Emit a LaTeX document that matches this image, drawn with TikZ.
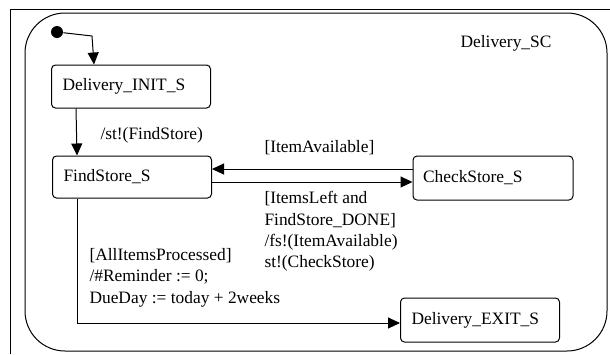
\documentclass[tikz,border=0pt]{standalone}
\usepackage{fontspec}
\setmainfont{Liberation Serif}
\usetikzlibrary{positioning,arrows.meta}

\begin{document}
\begin{tikzpicture}[x=1pt,y=-1pt,
  font=\fontsize{17.4}{21.4}\selectfont,
  line width=1pt,
  state/.style={draw, rounded corners=4pt, minimum height=43pt, inner xsep=11pt, text width=137pt, align=left},
  trans/.style={-{Triangle[length=12pt,width=11pt]}},
  lbl/.style={inner sep=0pt, align=left}]
\useasboundingbox (0,0) rectangle (610,354);
\draw (10,354) |- (610,9);
\draw[rounded corners=40pt] (25,13) rectangle (607,351);
\node (name) at (506,43) {Delivery\_SC};
\node[fill, circle, inner sep=0pt, minimum size=12pt] (start) at (57,32) {};
\node[state] (initS) at (131,86.5) {Delivery\_INIT\_S};
\node[state, minimum height=42pt] (findS) at (132,177) {FindStore\_S};
\node[state, minimum height=44pt, inner xsep=10pt, text width=140pt] (checkS) at (493,178) {CheckStore\_S};
\node[state, minimum height=44pt] (exitS) at (480,320) {Delivery\_EXIT\_S};
\node[lbl, anchor=west] (l1) at (100,135) {/st!(FindStore)};
\node[lbl, anchor=west] (l2) at (264,148) {[ItemAvailable]};
\node[lbl, anchor=north west] (l3) at (264,191) {[ItemsLeft and\\FindStore\_DONE]\\/fs!(ItemAvailable)\\st!(CheckStore)};
\node[lbl, anchor=north west] (l4) at (89,248) {[AllItemsProcessed]\\/\#Reminder := 0;\\DueDay := today + 2weeks};
\coordinate (kink) at (92,36);
\draw[trans] (start) -- (kink) -- ([xshift=43pt]initS.north west);
\draw[trans] ([xshift=25pt]initS.south west) -- ([xshift=25pt]findS.north west);
\coordinate (a1) at ([yshift=8pt]findS.east);
\draw[trans] (checkS.west |- a1) -- (a1);
\coordinate (a2) at ([yshift=-5pt]findS.east);
\draw[trans] (a2) -- (a2 -| checkS.west);
\draw[trans] ([xshift=25pt]findS.south west) |- ([yshift=-3pt]exitS.west);
\end{tikzpicture}
\end{document}
